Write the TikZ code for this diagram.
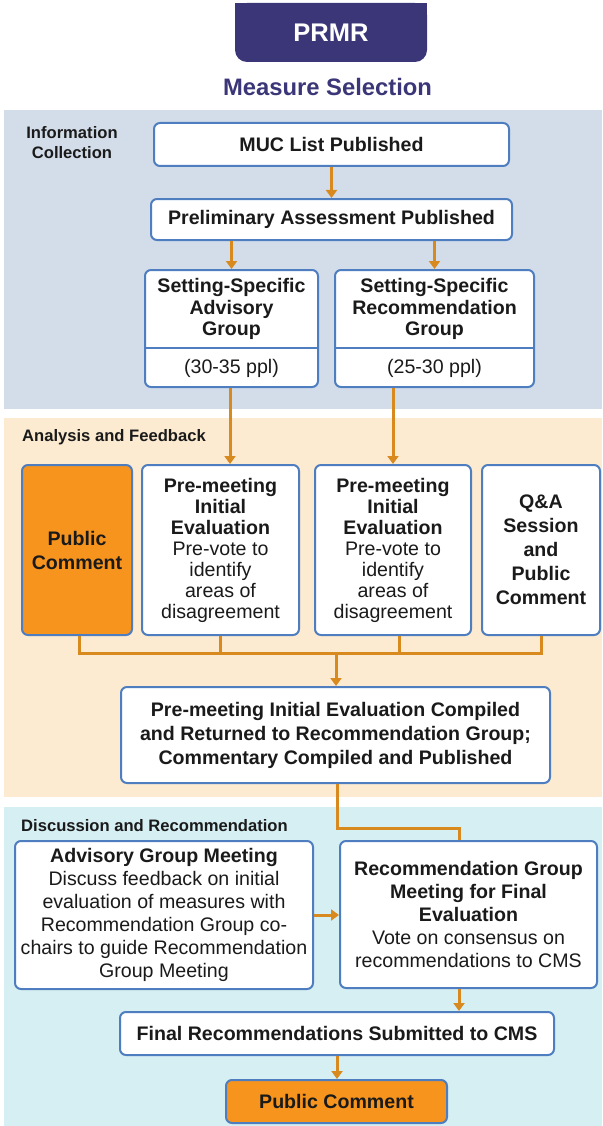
\documentclass[tikz,border=0pt]{standalone}
\usepackage{fontspec}
\setmainfont{Liberation Sans}
\usetikzlibrary{arrows.meta}

\definecolor{navy}{HTML}{3A3677}
\definecolor{flow}{HTML}{D98A1E}
\definecolor{hotfill}{HTML}{F7941D}
\definecolor{edge}{HTML}{4F7EC0}
\definecolor{bandblue}{HTML}{D3DDE9}
\definecolor{bandpeach}{HTML}{FDEBD1}
\definecolor{bandcyan}{HTML}{D6EFF2}
\definecolor{ink}{HTML}{1A1A1A}

\newcommand\fsBody[1]{\fontsize{19.6}{#1}\selectfont}
\newcommand\fsLabel{\fontsize{16.6}{20}\selectfont\bfseries}

\tikzset{
  card/.style={draw=edge, line width=2pt, fill=white, rounded corners=6pt,
    inner sep=0pt, align=center, text=ink},
  hotcard/.style={card, fill=hotfill},
  bandlabel/.style={inner sep=0pt, text=ink, font=\fsLabel},
  flowline/.style={draw=flow, line width=3pt},
  flowarrow/.style={flowline, -{Triangle[length=8pt,width=11pt]}},
}

\begin{document}
\begin{tikzpicture}[x=1pt, y=-1pt]
\useasboundingbox (0,0) rectangle (602,1126);

% coloured bands
\fill[bandblue]  (4,110) rectangle (602,409);
\fill[bandpeach] (4,418) rectangle (602,797);
\fill[bandcyan]  (4,807) rectangle (602,1126);

% header tab (square top, rounded bottom)
\fill[navy] (235,3) rectangle (427,30);
\node[fill=navy, rounded corners=12pt, minimum width=192pt, minimum height=59pt,
      inner sep=0pt, text=white, font=\fontsize{25.5}{28}\selectfont\bfseries]
      (prmr) at (331,32.5) {PRMR};
\node[text=navy, inner sep=0pt, font=\fontsize{23.8}{26}\selectfont\bfseries]
      (msel) at (327.5,87) {Measure Selection};

% band labels
\node[bandlabel, align=center] (infocol) at (72,143) {Information\\Collection};
\node[bandlabel, anchor=west] (anfb) at (22,437) {Analysis and Feedback};
\node[bandlabel, anchor=west] (disrec) at (21,826) {Discussion and Recommendation};

% information collection
\node[card, minimum width=355pt, minimum height=43pt, font=\fsBody{22}\bfseries]
      (muc) at (331.5,144.5) {MUC List Published};
\node[card, minimum width=361pt, minimum height=41pt, font=\fsBody{22}\bfseries]
      (prelim) at (331.5,219.5) {Preliminary Assessment Published};

\node[card, minimum width=173pt, minimum height=117pt] (ssag) at (231.5,328.5) {};
\node[card, minimum width=199pt, minimum height=117pt] (ssrg) at (434.5,328.5) {};
\coordinate (split) at (0,348);
\draw[edge, line width=2pt] (ssag.west |- split) -- (ssag.east |- split);
\draw[edge, line width=2pt] (ssrg.west |- split) -- (ssrg.east |- split);
\node[inner sep=0pt, align=center, text=ink, font=\fsBody{21.7}\bfseries]
      (ssagtitle) at (231.5,309) {Setting-Specific\\Advisory\\Group};
\node[inner sep=0pt, text=ink, font=\fsBody{22}]
      (ssagsize) at (231.5,368) {(30-35 ppl)};
\node[inner sep=0pt, align=center, text=ink, font=\fsBody{21.7}\bfseries]
      (ssrgtitle) at (434.5,309) {Setting-Specific\\Recommendation\\Group};
\node[inner sep=0pt, text=ink, font=\fsBody{22}]
      (ssrgsize) at (434.5,368) {(25-30 ppl)};

% analysis and feedback
\node[hotcard, minimum width=110pt, minimum height=170pt, font=\fsBody{24}\bfseries]
      (pc1) at (77,550) {Public\\Comment};
\node[card, minimum width=157pt, minimum height=170pt, font=\fsBody{21}]
      (pme1) at (220.5,550) {\textbf{Pre-meeting}\\\textbf{Initial}\\\textbf{Evaluation}\\Pre-vote to\\identify\\areas of\\disagreement};
\node[card, minimum width=156pt, minimum height=170pt, font=\fsBody{21}]
      (pme2) at (393,550) {\textbf{Pre-meeting}\\\textbf{Initial}\\\textbf{Evaluation}\\Pre-vote to\\identify\\areas of\\disagreement};
\node[card, minimum width=118pt, minimum height=170pt, font=\fsBody{24}\bfseries]
      (qa) at (541,550) {Q\&A\\Session\\and\\Public\\Comment};
\node[card, minimum width=429pt, minimum height=96pt, font=\fsBody{24}\bfseries]
      (compiled) at (335.5,735) {Pre-meeting Initial Evaluation Compiled\\and Returned to Recommendation Group;\\Commentary Compiled and Published};

% discussion and recommendation
\node[card, minimum width=298pt, minimum height=148pt, font=\fsBody{23}]
      (agm) at (164,915) {\textbf{Advisory Group Meeting}\\Discuss feedback on initial\\evaluation of measures with\\Recommendation Group co-\\chairs to guide Recommendation\\Group Meeting};
\node[card, minimum width=257pt, minimum height=147pt, font=\fsBody{23}]
      (rgm) at (468.5,914.5) {\textbf{Recommendation Group}\\\textbf{Meeting for Final}\\\textbf{Evaluation}\\Vote on consensus on\\recommendations to CMS};
\node[card, minimum width=434pt, minimum height=43pt, font=\fsBody{22}\bfseries]
      (final) at (337,1033.5) {Final Recommendations Submitted to CMS};
\node[hotcard, minimum width=221pt, minimum height=43pt, font=\fsBody{22}\bfseries]
      (pc2) at (336.5,1101.5) {Public Comment};

% connectors
\draw[flowarrow] (muc.south) -- (prelim.north);
\draw[flowarrow] (prelim.south -| ssag.north) -- (ssag.north);
\draw[flowarrow] (prelim.south -| ssrg.north) -- (ssrg.north);
\draw[flowarrow] ([xshift=-1.5pt]ssag.south) -- ([xshift=-1.5pt]ssag.south |- pme1.north);
\draw[flowarrow] (pme2.north |- ssrg.south) -- (pme2.north);

\coordinate (bus) at (336,653);
\draw[flowline] ([xshift=2pt]pc1.south) |- (qa.south |- bus) -- (qa.south);
\draw[flowline] (pme1.south) -- (pme1.south |- bus);
\draw[flowline] ([xshift=6pt]pme2.south) -- ([xshift=6pt]pme2.south |- bus);
\draw[flowarrow] (bus) -- (bus |- compiled.north);

\coordinate (elbow) at (337,828);
\draw[flowline] (compiled.south -| elbow) -- (elbow) -| ([xshift=-9.5pt]rgm.north);
\draw[flowarrow] (agm.east) -- (agm.east -| rgm.west);
\draw[flowarrow] ([xshift=-9.5pt]rgm.south) -- ([xshift=-9.5pt]rgm.south |- final.north);
\draw[flowarrow] (final.south) -- (final.south |- pc2.north);
\end{tikzpicture}
\end{document}
